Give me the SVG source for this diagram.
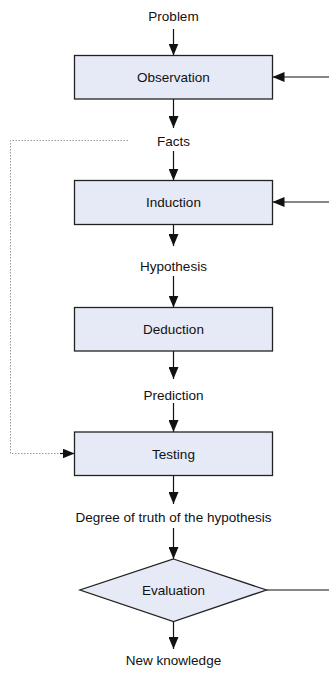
<svg xmlns="http://www.w3.org/2000/svg" width="329" height="679" viewBox="0 0 329 679">
<style>
.box{fill:#e6eaf6;stroke:#222;stroke-width:1.3}
.lbl{font-family:"Liberation Sans",Arial,sans-serif;font-size:13.5px;fill:#111;text-anchor:middle;dominant-baseline:central}
.con{stroke:#111;stroke-width:1.2;fill:none}
.dot{stroke:#999;stroke-width:1;stroke-dasharray:1.5 1.5;fill:none}
</style>
<defs>
<marker id="ah" viewBox="0 0 12 10" refX="12" refY="5" markerWidth="12" markerHeight="10" markerUnits="userSpaceOnUse" orient="auto">
<path d="M0,0 L12,5 L0,10 Z" fill="#111"/>
</marker>
</defs>
<rect width="329" height="679" fill="#fff"/>
<g id="connectors">
<line class="con" x1="173.5" y1="29" x2="173.5" y2="55.5" marker-end="url(#ah)"/>
<line class="con" x1="173.5" y1="99" x2="173.5" y2="128" marker-end="url(#ah)"/>
<line class="con" x1="173.5" y1="151" x2="173.5" y2="180.5" marker-end="url(#ah)"/>
<line class="con" x1="173.5" y1="224.5" x2="173.5" y2="246" marker-end="url(#ah)"/>
<line class="con" x1="173.5" y1="276" x2="173.5" y2="307.5" marker-end="url(#ah)"/>
<line class="con" x1="173.5" y1="351" x2="173.5" y2="379" marker-end="url(#ah)"/>
<line class="con" x1="173.5" y1="403" x2="173.5" y2="432" marker-end="url(#ah)"/>
<line class="con" x1="173.5" y1="475.5" x2="173.5" y2="504" marker-end="url(#ah)"/>
<line class="con" x1="173.5" y1="528" x2="173.5" y2="559" marker-end="url(#ah)"/>
<line class="con" x1="173.5" y1="621.5" x2="173.5" y2="649" marker-end="url(#ah)"/>
<line class="con" x1="329" y1="77" x2="272.5" y2="77" marker-end="url(#ah)"/>
<line class="con" x1="329" y1="202" x2="272.5" y2="202" marker-end="url(#ah)"/>
<line class="con" x1="266.5" y1="590" x2="329" y2="590"/>
<polyline class="dot" points="128,140.5 10.5,140.5 10.5,453.5 62,453.5"/>
<line class="con" x1="60" y1="453.5" x2="74.5" y2="453.5" stroke-width="0" marker-end="url(#ah)"/>
</g>
<g id="problem"><text class="lbl" x="173.5" y="16">Problem</text></g>
<g id="observation"><rect class="box" x="74.5" y="55.5" width="198" height="43.5"/><text class="lbl" x="173.5" y="77.5" fill="#333">Observation</text></g>
<g id="facts"><text class="lbl" x="173.5" y="141">Facts</text></g>
<g id="induction"><rect class="box" x="74.5" y="180.5" width="198" height="44"/><text class="lbl" x="173.5" y="202.5">Induction</text></g>
<g id="hypothesis"><text class="lbl" x="173.5" y="266">Hypothesis</text></g>
<g id="deduction"><rect class="box" x="74.5" y="307.5" width="198" height="43.5"/><text class="lbl" x="173.5" y="329.5">Deduction</text></g>
<g id="prediction"><text class="lbl" x="173.5" y="395">Prediction</text></g>
<g id="testing"><rect class="box" x="74.5" y="432" width="198" height="43.5"/><text class="lbl" x="173.5" y="454">Testing</text></g>
<g id="degree"><text class="lbl" x="173.5" y="517">Degree of truth of the hypothesis</text></g>
<g id="evaluation"><polygon class="box" points="173.5,559 266.5,590 173.5,621.5 80,590"/><text class="lbl" x="173.5" y="590.5">Evaluation</text></g>
<g id="newknowledge"><text class="lbl" x="173.5" y="660">New knowledge</text></g>
</svg>
